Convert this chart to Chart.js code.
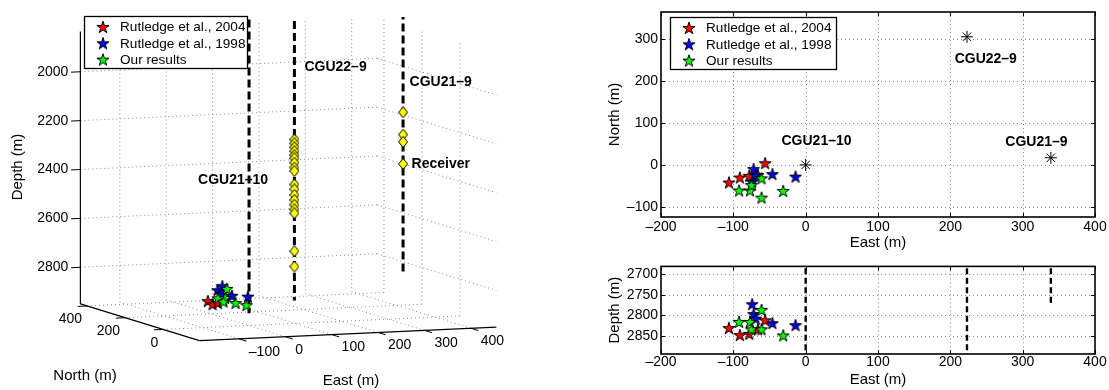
<!DOCTYPE html>
<html>
<head>
<meta charset="utf-8">
<script src="https://cdn.jsdelivr.net/npm/chart.js@4.4.1/dist/chart.umd.min.js"></script>
<style>
  body { margin: 0; background: #fff; width: 1109px; height: 390px; position: relative; overflow: hidden; }
  .box { position: absolute; }
</style>
</head>
<body>
<div class="box" style="left:0;top:0;width:600px;height:390px"><canvas id="c3d"></canvas></div>
<div class="box" style="left:600px;top:0;width:509px;height:255px"><canvas id="cTop"></canvas></div>
<div class="box" style="left:600px;top:255px;width:509px;height:135px"><canvas id="cBot"></canvas></div>
<script>
// event locations (m)
const groupNames = ['Rutledge et al., 2004', 'Rutledge et al., 1998', 'Our results']
const groupColors = ['#ff0000', '#0000ff', '#00ff00']

const r04East = [-106, -91, -78, -56, -66]
const r04North = [-42, -30, -26, 4, -24]
const r04Depth = [2831, 2848, 2845, 2812, 2834]

const r98East = [-72, -74, -69, -46, -14]
const r98North = [-10, -40, -25, -22, -28]
const r98Depth = [2797, 2773, 2808, 2819, 2824]

const ourEast = [-92, -77, -61, -31, -61, -75]
const ourNorth = [-61, -61, -78, -62, -32, -48]
const ourDepth = [2816, 2816, 2834, 2849, 2787, 2834]

// wells
const wellNames = ['CGU21\u201310', 'CGU22\u20139', 'CGU21\u20139']
const wellEast = [0, 223, 339]
const wellNorth = [0, 305, 17]
const wellTop = [1600, 1600, 1600]
const wellBottom = [2900, 2940, 2770]

// receiver depths in the two monitor wells
const rx229Depth = [2281, 2297, 2313, 2329, 2345, 2358, 2376, 2396, 2410,
                    2465, 2485, 2508, 2528, 2548, 2567, 2583, 2738, 2801]
const rx219Depth = [2111, 2202, 2232, 2322]

// 3d axis ticks
const east3dTicks = [-100, 0, 100, 200, 300, 400]
const north3dTicks = [0, 200, 400]
const depth3dTicks = [2000, 2200, 2400, 2600, 2800]

const FONT = "'Liberation Sans', Arial, Helvetica, sans-serif"
Chart.defaults.font.family = FONT
Chart.defaults.font.size = 14
Chart.defaults.color = '#000'

const fmtTick = v => (v < 0 ? '\u2013' + Math.abs(v) : String(v))

const groups = [
  { name: groupNames[0], color: groupColors[0], east: r04East, north: r04North, depth: r04Depth },
  { name: groupNames[1], color: groupColors[1], east: r98East, north: r98North, depth: r98Depth },
  { name: groupNames[2], color: groupColors[2], east: ourEast, north: ourNorth, depth: ourDepth }
]

// marker images
function starImage(color) {
  const s = 14
  const c = document.createElement('canvas')
  c.width = s; c.height = s
  const ctx = c.getContext('2d')
  const R = 6.4, r = R * 0.382, cx = s / 2, cy = s / 2 + 0.5
  ctx.beginPath()
  for (let i = 0; i < 10; i++) {
    const a = -Math.PI / 2 + i * Math.PI / 5
    const rad = i % 2 ? r : R
    ctx.lineTo(cx + rad * Math.cos(a), cy + rad * Math.sin(a))
  }
  ctx.closePath()
  ctx.fillStyle = color
  ctx.fill()
  ctx.lineWidth = 1
  ctx.strokeStyle = '#000'
  ctx.stroke()
  return c
}

function diamondImage() {
  const c = document.createElement('canvas')
  c.width = 10; c.height = 12
  const ctx = c.getContext('2d')
  ctx.beginPath()
  ctx.moveTo(5, 0.5); ctx.lineTo(9.5, 6); ctx.lineTo(5, 11.5); ctx.lineTo(0.5, 6)
  ctx.closePath()
  ctx.fillStyle = '#ffff00'
  ctx.fill()
  ctx.lineWidth = 1
  ctx.strokeStyle = '#000'
  ctx.stroke()
  return c
}

const starImgs = groups.map(g => starImage(g.color))
const diamondImg = diamondImage()

// legend drawn inside the axes, like matlab
const starLegend = {
  id: 'starLegend',
  afterDraw(chart, args, opts) {
    if (!opts || opts.left === undefined) return
    const ctx = chart.ctx
    ctx.save()
    ctx.fillStyle = '#fff'
    ctx.fillRect(opts.left, opts.top, opts.width, opts.height)
    ctx.strokeStyle = '#000'
    ctx.lineWidth = 1.3
    ctx.strokeRect(opts.left + 0.5, opts.top + 0.5, opts.width, opts.height)
    ctx.font = '13.6px ' + FONT
    ctx.textBaseline = 'middle'
    ctx.fillStyle = '#000'
    groups.forEach((g, i) => {
      const y = opts.top + 11 + i * 16.3
      ctx.drawImage(starImgs[i], opts.left + 19 - 7, y - 7)
      ctx.fillText(g.name, opts.left + 36, y + 0.5)
    })
    ctx.restore()
  }
}

// ---------- 3d view ----------
const box3d = { e0: -185, e1: 455, n0: -190, n1: 435, d0: 1835, d1: 2950,
                ox: 197, oy: 346, ex: 0.475, ey: -0.0219, nx: -0.195, ny: -0.0608, dz: 0.2535 }

function project(e, n, d) {
  return {
    x: box3d.ox + (e - box3d.e0) * box3d.ex + (n - box3d.n0) * box3d.nx,
    y: box3d.oy + (e - box3d.e0) * box3d.ey + (n - box3d.n0) * box3d.ny - (box3d.d1 - d) * box3d.dz
  }
}

const axes3d = {
  id: 'axes3d',
  beforeDatasetsDraw(chart) {
    const { ctx, scales: { x, y } } = chart
    const P = (e, n, d) => { const p = project(e, n, d); return [x.getPixelForValue(p.x), y.getPixelForValue(p.y)] }
    const seg = (a, b) => { ctx.beginPath(); ctx.moveTo(a[0], a[1]); ctx.lineTo(b[0], b[1]); ctx.stroke() }
    const b = box3d
    ctx.save()
    ctx.strokeStyle = '#8a8a8a'
    ctx.lineWidth = 1
    ctx.setLineDash([1, 3])
    // back wall (north = max)
    depth3dTicks.forEach(d => seg(P(b.e0, b.n1, d), P(b.e1, b.n1, d)))
    east3dTicks.forEach(e => seg(P(e, b.n1, b.d0), P(e, b.n1, b.d1)))
    // side wall (east = max)
    depth3dTicks.forEach(d => seg(P(b.e1, b.n1, d), P(b.e1, b.n0, d)))
    north3dTicks.forEach(n => seg(P(b.e1, n, b.d0), P(b.e1, n, b.d1)))
    // floor
    east3dTicks.forEach(e => seg(P(e, b.n0, b.d1), P(e, b.n1, b.d1)))
    north3dTicks.forEach(n => seg(P(b.e0, n, b.d1), P(b.e1, n, b.d1)))
    // axis lines
    ctx.setLineDash([])
    ctx.strokeStyle = '#000'
    ctx.lineWidth = 1.2
    seg(P(b.e0, b.n1, b.d0), P(b.e0, b.n1, b.d1))
    seg(P(b.e0, b.n1, b.d1), P(b.e0, b.n0, b.d1))
    seg(P(b.e0, b.n0, b.d1), P(b.e1, b.n0, b.d1))
    // tick marks + labels
    ctx.lineWidth = 1
    ctx.fillStyle = '#000'
    ctx.font = '14px ' + FONT
    ctx.textBaseline = 'middle'
    ctx.textAlign = 'right'
    depth3dTicks.forEach(d => {
      const p = P(b.e0, b.n1, d)
      seg(p, P(b.e0 - 20, b.n1, d))
      ctx.fillText(String(d), p[0] - 12, p[1])
    })
    north3dTicks.forEach(n => {
      const p = P(b.e0, n, b.d1)
      seg(p, P(b.e0 - 20, n, b.d1))
      ctx.fillText(fmtTick(n), p[0] - 5, p[1] + 13.5)
    })
    ctx.textAlign = 'left'
    east3dTicks.forEach(e => {
      const p = P(e, b.n0, b.d1)
      seg(p, P(e, b.n0 - 40, b.d1))
      ctx.fillText(fmtTick(e), p[0] + 10, p[1] + 13)
    })
    // axis titles
    ctx.font = '15px ' + FONT
    ctx.textAlign = 'center'
    ctx.fillText('North (m)', 85, 376)
    ctx.fillText('East (m)', 351, 381)
    ctx.translate(18, 167)
    ctx.rotate(-Math.PI / 2)
    ctx.fillText('Depth (m)', 0, 0)
    ctx.restore()
  },
  afterDatasetsDraw(chart, args, opts) {
    const { ctx, scales: { x, y } } = chart
    ctx.save()
    ctx.font = 'bold 14px ' + FONT
    ctx.fillStyle = '#000'
    ctx.textBaseline = 'middle'
    opts.labels.forEach(l => {
      const p = project(l.e, l.n, l.d)
      ctx.textAlign = l.align
      ctx.fillText(l.text, x.getPixelForValue(p.x) + l.dx, y.getPixelForValue(p.y))
    })
    ctx.restore()
  }
}

const ds3d = []
wellEast.forEach((e, i) => {
  ds3d.push({
    data: [project(e, wellNorth[i], wellTop[i]), project(e, wellNorth[i], wellBottom[i])],
    showLine: true, borderColor: '#000', borderWidth: 3, borderDash: [8, 4],
    pointRadius: 0, clip: { left: 0, top: -10, right: 0, bottom: 0 }, order: 5
  })
})
ds3d.push({
  data: rx229Depth.map(d => project(wellEast[1], wellNorth[1], d))
    .concat(rx219Depth.map(d => project(wellEast[2], wellNorth[2], d))),
  pointStyle: diamondImg, pointRadius: 5, order: 4
})
groups.forEach((g, k) => {
  ds3d.push({
    data: g.east.map((e, j) => project(e, g.north[j], g.depth[j])),
    pointStyle: starImgs[k], pointRadius: 6, order: 3 - k
  })
})

new Chart(document.getElementById('c3d'), {
  type: 'scatter',
  data: { datasets: ds3d },
  options: {
    responsive: true, maintainAspectRatio: false, animation: false, events: [],
    layout: { padding: 0 },
    scales: {
      x: { type: 'linear', min: 0, max: 600, display: false },
      y: { type: 'linear', min: 0, max: 390, reverse: true, display: false }
    },
    plugins: {
      legend: { display: false }, tooltip: { enabled: false },
      starLegend: { left: 84, top: 16, width: 163, height: 52 },
      axes3d: {
        labels: [
          { text: wellNames[1], e: wellEast[1], n: wellNorth[1], d: 1984, dx: 10, align: 'left' },
          { text: wellNames[2], e: wellEast[2], n: wellNorth[2], d: 1988, dx: 6.5, align: 'left' },
          { text: wellNames[0], e: wellEast[0], n: wellNorth[0], d: 2357, dx: -16, align: 'center' },
          { text: 'Receiver', e: wellEast[2], n: wellNorth[2], d: rx219Depth[3], dx: 8.5, align: 'left' }
        ]
      }
    }
  },
  plugins: [axes3d, starLegend]
})

// ---------- 2d views ----------
const frame2d = {
  id: 'frame2d',
  beforeDatasetsDraw(chart) {
    const { ctx, chartArea: a, scales: { x, y } } = chart
    const seg = (x1, y1, x2, y2) => { ctx.beginPath(); ctx.moveTo(x1, y1); ctx.lineTo(x2, y2); ctx.stroke() }
    ctx.save()
    ctx.strokeStyle = '#8a8a8a'
    ctx.lineWidth = 1
    ctx.setLineDash([1, 3])
    x.ticks.forEach(t => {
      const px = Math.round(x.getPixelForValue(t.value)) + 0.5
      if (px > a.left + 2 && px < a.right - 2) seg(px, a.top, px, a.bottom)
    })
    y.ticks.forEach(t => {
      const py = Math.round(y.getPixelForValue(t.value)) + 0.5
      if (py > a.top + 2 && py < a.bottom - 2) seg(a.left, py, a.right, py)
    })
    ctx.setLineDash([])
    ctx.strokeStyle = '#000'
    x.ticks.forEach(t => {
      const px = Math.round(x.getPixelForValue(t.value)) + 0.5
      seg(px, a.bottom, px, a.bottom - 4)
      seg(px, a.top, px, a.top + 4)
    })
    y.ticks.forEach(t => {
      const py = Math.round(y.getPixelForValue(t.value)) + 0.5
      seg(a.left, py, a.left + 4, py)
      seg(a.right, py, a.right - 4, py)
    })
    ctx.restore()
  },
  afterDraw(chart, args, opts) {
    const { ctx, chartArea: a, scales: { x, y } } = chart
    ctx.save()
    ctx.strokeStyle = '#000'
    ctx.lineWidth = 1.6
    ctx.strokeRect(a.left, a.top, a.width, a.height)
    if (opts && opts.labels) {
      ctx.font = 'bold 14px ' + FONT
      ctx.fillStyle = '#000'
      ctx.textAlign = 'center'
      ctx.textBaseline = 'middle'
      opts.labels.forEach(l => ctx.fillText(l.text, x.getPixelForValue(l.x), y.getPixelForValue(l.y)))
    }
    ctx.restore()
  }
}

function scale2d(opts) {
  return {
    type: 'linear', min: opts.min, max: opts.max, reverse: !!opts.reverse,
    ticks: { stepSize: opts.step, includeBounds: false, padding: opts.pad, callback: fmtTick, font: { size: 14 } },
    grid: { display: false, drawTicks: false },
    border: { display: false },
    title: { display: true, text: opts.title, font: { size: 15 }, padding: opts.titlePad },
    afterFit: s => { if (opts.w) s.width = opts.w; if (opts.h) s.height = opts.h }
  }
}

// map view
const dsTop = groups.map((g, k) => ({
  data: g.east.map((e, j) => ({ x: e, y: g.north[j] })),
  pointStyle: starImgs[k], pointRadius: 6, order: 3 - k
}))
dsTop.push({
  data: wellEast.map((e, i) => ({ x: e, y: wellNorth[i] })),
  pointStyle: 'star', pointRadius: 6, borderColor: '#000', borderWidth: 1, order: 0
})

new Chart(document.getElementById('cTop'), {
  type: 'scatter',
  data: { datasets: dsTop },
  options: {
    responsive: true, maintainAspectRatio: false, animation: false, events: [],
    layout: { padding: { top: 12, right: 14, left: 0, bottom: 0 } },
    scales: {
      x: scale2d({ min: -200, max: 400, step: 100, pad: 2, title: 'East (m)', titlePad: { top: 0, bottom: 3 }, h: 38 }),
      y: scale2d({ min: -124, max: 364, step: 100, pad: 3, title: 'North (m)', titlePad: { top: 6, bottom: 0 }, w: 61 })
    },
    plugins: {
      legend: { display: false }, tooltip: { enabled: false },
      starLegend: { left: 70, top: 17, width: 166, height: 52 },
      frame2d: {
        labels: [
          { text: wellNames[1], x: 249, y: 252 },
          { text: wellNames[0], x: 15, y: 57 },
          { text: wellNames[2], x: 319, y: 55 }
        ]
      }
    }
  },
  plugins: [frame2d, starLegend]
})

// depth section
const dsBot = wellEast.map((e, i) => ({
  data: [{ x: e, y: wellTop[i] }, { x: e, y: wellBottom[i] }],
  showLine: true, borderColor: '#000', borderWidth: 2.4, borderDash: [6, 3.5], pointRadius: 0, order: 5
}))
groups.forEach((g, k) => dsBot.push({
  data: g.east.map((e, j) => ({ x: e, y: g.depth[j] })),
  pointStyle: starImgs[k], pointRadius: 6, order: 3 - k
}))

new Chart(document.getElementById('cBot'), {
  type: 'scatter',
  data: { datasets: dsBot },
  options: {
    responsive: true, maintainAspectRatio: false, animation: false, events: [],
    layout: { padding: { top: 9, right: 14, left: 0, bottom: 0 } },
    scales: {
      x: scale2d({ min: -200, max: 400, step: 100, pad: 0, title: 'East (m)', titlePad: { top: 0, bottom: 1 }, h: 36 }),
      y: scale2d({ min: 2681, max: 2894, step: 50, pad: 3, reverse: true, title: 'Depth (m)', titlePad: { top: 6, bottom: 0 }, w: 61 })
    },
    plugins: { legend: { display: false }, tooltip: { enabled: false }, frame2d: {} }
  },
  plugins: [frame2d]
})
</script>
</body>
</html>
